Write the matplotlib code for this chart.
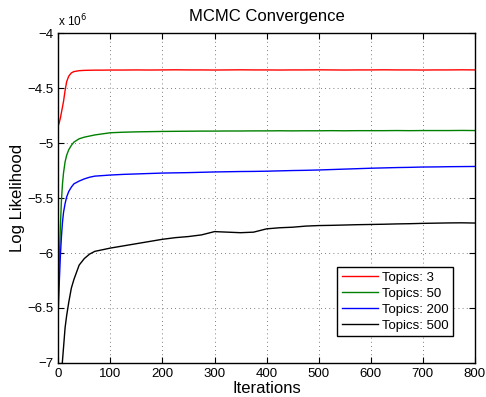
import matplotlib
matplotlib.use('Agg')
import matplotlib.pyplot as plt
from matplotlib.ticker import FuncFormatter

plt.rcParams['font.family'] = ['Liberation Sans', 'DejaVu Sans']

iterations = [0, 2, 4, 6, 8, 10, 13, 16, 20, 25, 30, 40, 50, 60, 70, 85, 100,
              125, 150, 175, 200, 225, 250, 275, 300, 325, 350, 375, 400, 425,
              450, 475, 500, 525, 550, 575, 600, 625, 650, 675, 700, 725, 750,
              775, 800]

# log likelihood values, in units of 1e6
topics_3 = [-4.84, -4.81, -4.77, -4.72, -4.67, -4.62, -4.52, -4.44, -4.39, -4.36,
            -4.348, -4.34, -4.337, -4.336, -4.335, -4.335, -4.334,
            -4.334, -4.333, -4.334, -4.333, -4.332, -4.333, -4.333, -4.334, -4.333,
            -4.332, -4.333, -4.333, -4.334, -4.333, -4.333, -4.332, -4.333, -4.334,
            -4.333, -4.333, -4.332, -4.333, -4.333, -4.334, -4.333, -4.333, -4.332,
            -4.333]
topics_50 = [-6.35, -6.05, -5.75, -5.52, -5.37, -5.27, -5.17, -5.11, -5.06, -5.02,
             -4.99, -4.96, -4.945, -4.935, -4.925, -4.915, -4.905,
             -4.90, -4.897, -4.895, -4.893, -4.892, -4.891, -4.890, -4.890, -4.889,
             -4.889, -4.888, -4.888, -4.887, -4.888, -4.887, -4.887, -4.886, -4.887,
             -4.886, -4.886, -4.886, -4.885, -4.886, -4.885, -4.885, -4.885, -4.884,
             -4.885]
topics_200 = [-6.52, -6.25, -6.02, -5.85, -5.72, -5.63, -5.55, -5.49, -5.44, -5.40,
              -5.37, -5.345, -5.325, -5.31, -5.30, -5.295, -5.29,
              -5.284, -5.28, -5.276, -5.272, -5.27, -5.268, -5.265, -5.262, -5.26,
              -5.258, -5.257, -5.255, -5.252, -5.249, -5.247, -5.244, -5.24, -5.236,
              -5.232, -5.228, -5.225, -5.222, -5.22, -5.217, -5.216, -5.214, -5.213,
              -5.212]
topics_500 = [-7.5, -7.35, -7.2, -7.08, -6.98, -6.86, -6.68, -6.57, -6.45, -6.32,
              -6.24, -6.11, -6.05, -6.01, -5.985, -5.97, -5.955,
              -5.935, -5.915, -5.895, -5.875, -5.86, -5.85, -5.835, -5.805, -5.81,
              -5.815, -5.81, -5.78, -5.77, -5.765, -5.755, -5.75, -5.748, -5.745,
              -5.742, -5.74, -5.738, -5.735, -5.733, -5.73, -5.728, -5.726, -5.725,
              -5.727]

series = [('Topics: 3', topics_3, 'red'),
          ('Topics: 50', topics_50, (0, 0.5, 0)),
          ('Topics: 200', topics_200, 'blue'),
          ('Topics: 500', topics_500, 'black')]

fig, ax = plt.subplots(figsize=(4.86, 3.97), dpi=100)
fig.subplots_adjust(left=0.12, right=0.977, bottom=0.086, top=0.916)

for label, values, color in series:
    ax.plot(iterations, [v * 1e6 for v in values], color=color, lw=1.0, label=label)

ax.set_xlim(0, 800)
ax.set_ylim(-7e6, -4e6)
ax.set_xticks(range(0, 801, 100))
ax.set_yticks([-7e6, -6.5e6, -6e6, -5.5e6, -5e6, -4.5e6, -4e6])
ax.yaxis.set_major_formatter(
    FuncFormatter(lambda v, p: f'{v / 1e6:g}'.replace('-', '\u2212')))
ax.text(0.0, 1.012, 'x 10$^{6}$', transform=ax.transAxes, fontsize=8.5,
        ha='left', va='bottom')

ax.grid(True, linestyle=(0, (1, 4)), color='#555555', lw=0.6)
ax.tick_params(direction='in', top=True, right=True, labelsize=9.5, length=4)
for sp in ax.spines.values():
    sp.set_linewidth(1.0)

ax.set_title('MCMC Convergence', fontsize=12, pad=9)
ax.set_xlabel('Iterations', fontsize=12, labelpad=1)
ax.set_ylabel('Log Likelihood', fontsize=12, labelpad=2)

leg = ax.legend(loc='lower right', bbox_to_anchor=(0.947, 0.08), fontsize=9.5,
                fancybox=False, edgecolor='black', framealpha=1,
                handlelength=2.7, borderpad=0.35, labelspacing=0.28,
                handletextpad=0.3, borderaxespad=0)
leg.get_frame().set_linewidth(1.0)

fig.savefig('out.png', dpi=100)
